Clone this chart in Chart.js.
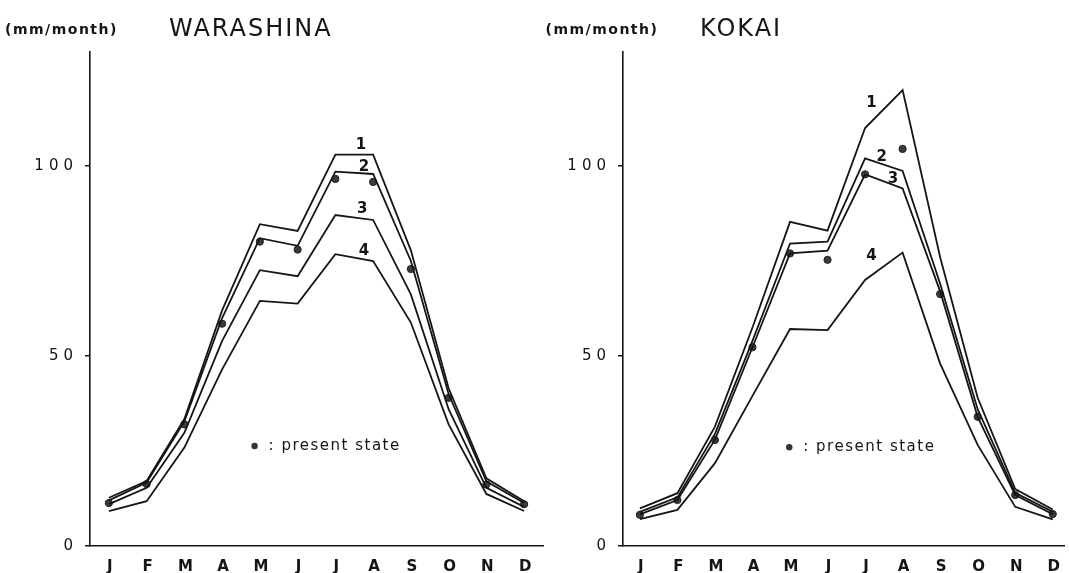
<!DOCTYPE html>
<html>
<head>
<meta charset="utf-8">
<script src="https://cdn.jsdelivr.net/npm/chart.js@4.4.1/dist/chart.umd.min.js"></script>
<style>
  html, body { margin: 0; padding: 0; background: #fff; }
  #wrap { position: relative; width: 1069px; height: 573px; overflow: hidden; background: #fff; }
  canvas { position: absolute; top: 0; }
  #warashina { left: 0; }
  #kokai { left: 540px; }
</style>
</head>
<body>
<div id="wrap">
  <canvas id="warashina" width="548" height="573"></canvas>
  <canvas id="kokai" width="529" height="573"></canvas>
</div>
<script>
const months = ['J', 'F', 'M', 'A', 'M', 'J', 'J', 'A', 'S', 'O', 'N', 'D'];
const yTicks = [0, 50, 100];

// WARASHINA, curves 1-4 and present state (mm/month)
const warashina1 = [12.7, 17.1, 33.4, 62, 84.7, 82.9, 103, 103, 77.8, 41.5, 17.8, 11.8];
const warashina2 = [12, 16.7, 32.8, 60, 81, 79, 98.5, 97.9, 75, 40, 17, 11.3];
const warashina3 = [11, 15.3, 29.8, 54, 72.6, 71, 87.1, 85.8, 66.2, 36, 15.3, 10.3];
const warashina4 = [9.2, 11.8, 25.9, 46.5, 64.5, 63.8, 76.8, 75, 58.8, 32, 13.7, 9.2];
const warashinaNow = [11.3, 16.3, 32, 58.5, 80.1, 78, 96.6, 95.8, 72.9, 39, 16.2, 11];

// KOKAI
const kokai1 = [9.9, 13.9, 31.4, 57.5, 85.3, 83, 110, 120, 76, 39, 15, 9.6];
const kokai2 = [9, 12.8, 29.5, 54, 79.6, 80.1, 102, 98.7, 69, 36, 14, 9];
const kokai3 = [8.3, 12.1, 28, 52.3, 77, 77.7, 97.8, 94.1, 67, 34, 13.4, 8.4];
const kokai4 = [7.1, 9.5, 21.8, 39.5, 57.1, 56.8, 70, 77.2, 48, 26.6, 10.3, 7];
const kokaiNow = [8.2, 12.1, 27.9, 52.3, 77, 75.3, 97.8, 104.5, 66.3, 34, 13.4, 8.4];

const FONT = '"DejaVu Sans", "Liberation Sans", sans-serif';
const INK = '#151515';

const pts = arr => arr.map((v, i) => ({ x: i + 1, y: v }));

// draws the header, curve numbers and the "present state" note
const sheetText = {
  id: 'sheetText',
  beforeDraw(chart) {
    chart.ctx.letterSpacing = '5px';
  },
  afterDraw(chart) {
    const o = chart.options.plugins.sheetText;
    const ctx = chart.ctx;
    const sx = chart.scales.x, sy = chart.scales.y;
    ctx.save();
    ctx.fillStyle = INK;
    ctx.textAlign = 'left';
    ctx.textBaseline = 'alphabetic';
    ctx.letterSpacing = '1.5px';
    ctx.font = '600 14px ' + FONT;
    ctx.fillText('(mm/month)', o.unitX, 34);
    ctx.letterSpacing = '2px';
    ctx.font = '24px ' + FONT;
    ctx.fillText(o.title, o.titleX, 36);

    ctx.letterSpacing = '0px';
    ctx.font = 'bold 15px ' + FONT;
    ctx.textAlign = 'center';
    ctx.textBaseline = 'middle';
    o.curveLabels.forEach((p, i) => {
      ctx.fillText(String(i + 1), sx.getPixelForValue(p[0]), sy.getPixelForValue(p[1]));
    });

    const lx = sx.getPixelForValue(o.note[0]);
    const ly = sy.getPixelForValue(o.note[1]);
    ctx.beginPath();
    ctx.arc(lx, ly, 3.2, 0, Math.PI * 2);
    ctx.fillStyle = '#333';
    ctx.fill();
    ctx.fillStyle = INK;
    ctx.textAlign = 'left';
    ctx.letterSpacing = '1.5px';
    ctx.font = '15px ' + FONT;
    ctx.fillText(': present state', lx + 14, ly);
    ctx.restore();
  }
};

function drawStation(id, lines, now, cfg) {
  const datasets = lines.map(arr => ({
    data: pts(arr),
    borderColor: INK,
    borderWidth: 1.8,
    pointRadius: 0,
    fill: false,
    tension: 0
  }));
  datasets.push({
    type: 'scatter',
    data: pts(now),
    pointRadius: 3.6,
    pointBackgroundColor: '#3c3c3c',
    pointBorderColor: '#1c1c1c',
    pointBorderWidth: 1
  });

  return new Chart(document.getElementById(id), {
    type: 'line',
    data: { datasets },
    options: {
      responsive: false,
      animation: false,
      events: [],
      layout: { padding: { top: 52, right: cfg.padRight, left: 0, bottom: 0 } },
      plugins: {
        legend: { display: false },
        tooltip: { enabled: false },
        sheetText: cfg.text
      },
      scales: {
        x: {
          type: 'linear',
          min: cfg.xMin,
          max: cfg.xMax,
          afterFit: s => { s.height = 27; },
          afterBuildTicks: s => { s.ticks = months.map((m, i) => ({ value: i + 1 })); },
          grid: { display: false },
          border: { display: true, color: INK, width: 1.6 },
          ticks: {
            autoSkip: false,
            maxRotation: 0,
            padding: 4,
            labelOffset: 3.5,
            color: INK,
            font: { family: FONT, size: 15, weight: 'bold' },
            callback: v => months[v - 1]
          }
        },
        y: {
          min: 0,
          max: 130,
          afterFit: s => { s.width = cfg.yWidth; },
          afterBuildTicks: s => { s.ticks = yTicks.map(v => ({ value: v })); },
          grid: { drawOnChartArea: false, drawTicks: true, tickLength: 5, color: INK, lineWidth: 1.5 },
          border: { display: true, color: INK, width: 1.6 },
          ticks: {
            padding: 7,
            color: INK,
            font: { family: FONT, size: 15 }
          }
        }
      }
    },
    plugins: [sheetText]
  });
}

drawStation('warashina', [warashina1, warashina2, warashina3, warashina4], warashinaNow, {
  xMin: 0.5, xMax: 12.5, yWidth: 90, padRight: 4.4,
  text: {
    title: 'WARASHINA', unitX: 5, titleX: 169,
    curveLabels: [[7.68, 105.5], [7.76, 99.8], [7.71, 88.7], [7.76, 77.7]],
    note: [4.86, 26.3]
  }
});

drawStation('kokai', [kokai1, kokai2, kokai3, kokai4], kokaiNow, {
  xMin: 0.55, xMax: 12.3, yWidth: 83, padRight: 3,
  text: {
    title: 'KOKAI', unitX: 5.5, titleX: 160,
    curveLabels: [[7.17, 116.5], [7.44, 102.4], [7.74, 96.5], [7.17, 76.3]],
    note: [4.98, 26]
  }
});
</script>
</body>
</html>
